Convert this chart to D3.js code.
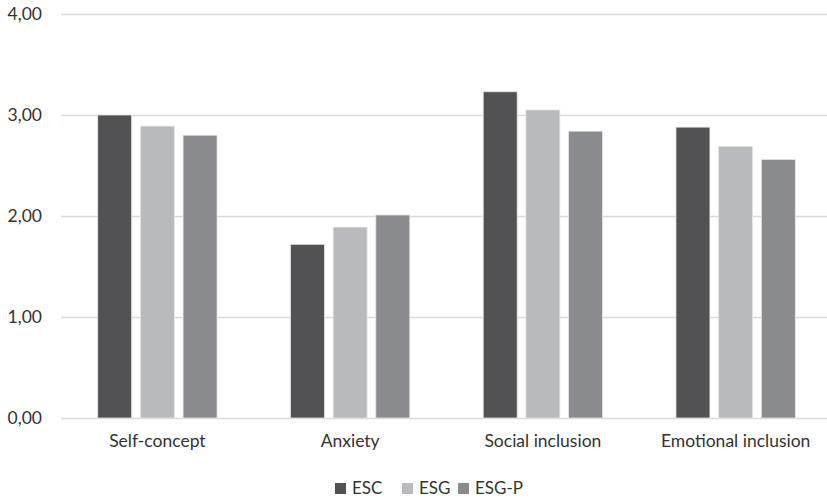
<!DOCTYPE html>
<html>
<head>
<meta charset="utf-8">
<script src="https://cdn.jsdelivr.net/npm/d3@7"></script>
<style>
  html, body { margin: 0; padding: 0; background: #fff; }
  svg { display: block; }
  text { font-family: Lato, "Open Sans", sans-serif; fill: #333; }
</style>
</head>
<body>
<svg id="chart" width="827" height="499"></svg>
<script>
// Mean scores by dimension for the three groups
const categories = ["Self-concept", "Anxiety", "Social inclusion", "Emotional inclusion"];
const seriesNames = ["ESC", "ESG", "ESG-P"];
const escValues = [3.00, 1.72, 3.23, 2.88];
const esgValues = [2.89, 1.89, 3.05, 2.69];
const esgpValues = [2.80, 2.01, 2.84, 2.56];
const yTicks = [0, 1, 2, 3, 4];
const seriesColors = ["#525254", "#b9babd", "#8a8b8e"];

const seriesValues = [escValues, esgValues, esgpValues];
const rows = categories.map((c, i) => ({
  category: c,
  values: seriesNames.map((s, j) => ({ series: s, value: seriesValues[j][i] }))
}));

const svg = d3.select("#chart");
const margin = { left: 61, right: -5, top: 14, bottom: 81 };
const width = 827, height = 499;
const fontStack = "Lato, 'Open Sans', sans-serif";

const x0 = d3.scaleBand()
  .domain(categories)
  .range([margin.left, width - margin.right])
  .paddingInner(0).paddingOuter(0);

const x1 = d3.scaleBand()
  .domain(seriesNames)
  .range([0, x0.bandwidth()])
  .paddingInner(0.204)
  .paddingOuter(0.86);

const y = d3.scaleLinear()
  .domain([0, 4])
  .range([height - margin.bottom, margin.top]);

const fmt = v => d3.format(".2f")(v).replace(".", ",");

// Horizontal gridlines and value labels
const yAxis = svg.append("g")
  .attr("transform", `translate(${margin.left},0)`)
  .call(d3.axisLeft(y).tickValues(yTicks).tickFormat(fmt)
    .tickSize(-(width - margin.right - margin.left)).tickPadding(19));
yAxis.select(".domain").remove();
yAxis.selectAll(".tick line").attr("stroke", "#d9d9d9").attr("stroke-width", 1.5);
yAxis.selectAll(".tick text").attr("font-size", 17.5).attr("fill", "#333")
  .style("font-family", fontStack);

// Bars
const groups = svg.append("g").selectAll("g")
  .data(rows).join("g")
  .attr("transform", d => `translate(${x0(d.category)},0)`);

groups.selectAll("rect")
  .data(d => d.values).join("rect")
  .attr("x", d => x1(d.series))
  .attr("y", d => y(d.value))
  .attr("width", x1.bandwidth())
  .attr("height", d => y(0) - y(d.value))
  .attr("fill", (d, i) => seriesColors[i])
  .attr("stroke", "#e6e6e6")
  .attr("stroke-width", 0.8);

// Category axis labels
const xAxis = svg.append("g")
  .attr("transform", `translate(0,${y(0)})`)
  .call(d3.axisBottom(x0).tickSize(0).tickPadding(17));
xAxis.select(".domain").remove();
xAxis.selectAll(".tick text").attr("font-size", 17.5).attr("fill", "#333")
  .style("font-family", fontStack);

// Legend
const legendX = d3.scaleOrdinal().domain(seriesNames).range([335, 402, 458]);
const legend = svg.append("g").selectAll("g")
  .data(seriesNames).join("g")
  .attr("transform", d => `translate(${legendX(d)},483)`);
legend.append("rect")
  .attr("width", 11).attr("height", 11)
  .attr("fill", (d, i) => seriesColors[i]);
legend.append("text")
  .attr("x", 17).attr("y", 11)
  .attr("font-size", 17)
  .text(d => d);
</script>
</body>
</html>
